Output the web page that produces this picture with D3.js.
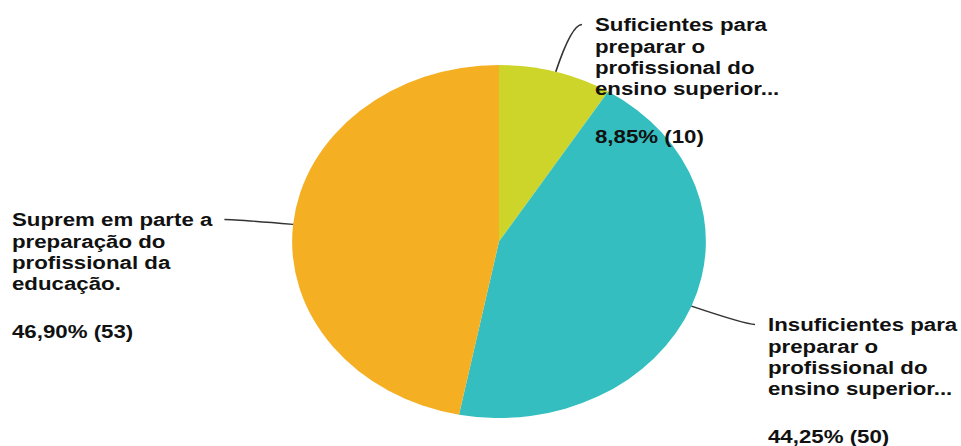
<!DOCTYPE html>
<html>
<head>
<meta charset="utf-8">
<script src="https://cdn.jsdelivr.net/npm/d3@7"></script>
<style>
  body { margin: 0; background: #fff; }
  text { font-family: "Liberation Sans", Arial, sans-serif; font-weight: bold; }
</style>
</head>
<body>
<div id="viz"></div>
<script>
// answer categories, as wrapped in the chart
const categories = [
    ['Suficientes para', 'preparar o', 'profissional do', 'ensino superior...'],
    ['Insuficientes para', 'preparar o', 'profissional do', 'ensino superior...'],
    ['Suprem em parte a', 'preparação do', 'profissional da', 'educação.']
];
const counts = [10, 50, 53];
const colors = ['#cdd42a', '#34bec0', '#f5af22'];

function buildChart(containerId) {
    const width = 961;
    const height = 446;
    // the original chart is stretched horizontally
    const sx = 1.172;

    const cx = 499 / sx;
    const cy = 241.5;
    const radius = 176.5;

    // where each label block sits (inner coords)
    const labelPos = [
        { x: 595 / sx, y: 31.5 },
        { x: 768 / sx, y: 331.5 },
        { x: 12 / sx, y: 226.5 }
    ];
    const lineHeight = 21.3;
    const pctGap = 47.5;

    const svg = d3.select(containerId)
        .append('svg')
        .attr('width', width)
        .attr('height', height);

    const g = svg.append('g')
        .attr('transform', `scale(${sx},1)`);

    const total = d3.sum(counts);
    const fmt = d3.format('.2f');

    const pie = d3.pie().sort(null).value(d => d);
    const arcs = pie(counts);

    const arc = d3.arc().innerRadius(0).outerRadius(radius);

    const pieG = g.append('g')
        .attr('transform', `translate(${cx},${cy})`);

    pieG.selectAll('path')
        .data(arcs)
        .enter()
        .append('path')
        .attr('d', arc)
        .attr('fill', (d, i) => colors[i]);

    // labels
    const firstWidths = [];
    arcs.forEach((d, i) => {
        const lp = labelPos[i];
        const t = g.append('text')
            .attr('x', lp.x)
            .attr('y', lp.y)
            .attr('font-size', 19)
            .attr('fill', '#111');
        categories[i].forEach((line, j) => {
            const ts = t.append('tspan')
                .attr('x', lp.x)
                .attr('y', lp.y + j * lineHeight)
                .text(line);
            if (j === 0) firstWidths[i] = ts.node().getComputedTextLength();
        });
        const pct = fmt(counts[i] / total * 100).replace('.', ',');
        t.append('tspan')
            .attr('x', lp.x)
            .attr('y', lp.y + (categories[i].length - 1) * lineHeight + pctGap)
            .text(`${pct}% (${counts[i]})`);
    });

    // leader lines
    arcs.forEach((d, i) => {
        const a = (d.startAngle + d.endAngle) / 2;
        const dx = Math.sin(a), dy = -Math.cos(a);
        const sx0 = cx + radius * dx, sy0 = cy + radius * dy;
        const lp = labelPos[i];
        const ty = lp.y - 7;
        const L = Math.abs((ty - sy0) / dy);
        const ctrlX = sx0 + dx * L, ctrlY = ty;
        const endX = dx > 0 ? lp.x - 13 / sx : lp.x + firstWidths[i] + 12 / sx;
        const p = d3.path();
        p.moveTo(sx0, sy0);
        p.quadraticCurveTo(ctrlX, ctrlY, endX, ty);
        g.append('path')
            .attr('d', p.toString())
            .attr('fill', 'none')
            .attr('stroke', '#333')
            .attr('stroke-width', 1.4);
    });
}

buildChart('#viz');
</script>
</body>
</html>
